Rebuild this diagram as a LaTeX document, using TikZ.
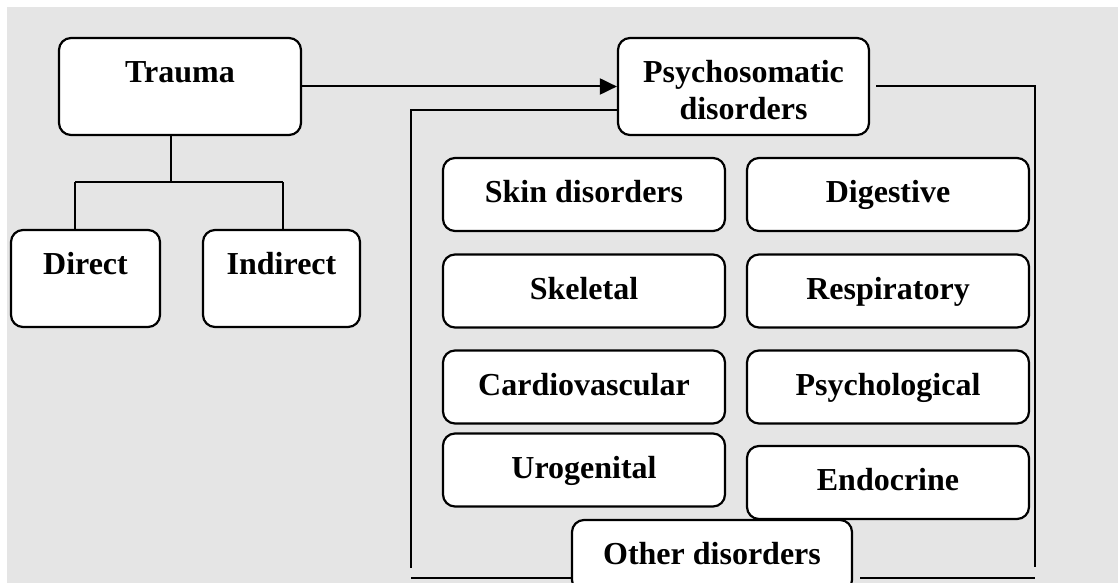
\documentclass[tikz,border=0pt]{standalone}
\usepackage{fontspec}
\setmainfont{Liberation Serif}
\definecolor{panelgray}{RGB}{229,229,229}
\usepackage{tikz}
\usetikzlibrary{arrows.meta,positioning}

\begin{document}
\begin{tikzpicture}[x=1pt,y=-1pt,
    font=\fontsize{32}{37}\selectfont\bfseries,
    box/.style={draw,line width=2.2pt,rounded corners=12pt,fill=white,
      inner sep=0pt,text height=22pt,text depth=6pt},
    topbox/.style={box,text depth=30pt},
    cellbox/.style={box,minimum width=282pt,minimum height=73pt},
    link/.style={line width=2pt}]
    % Page and panel
    \useasboundingbox (0,0) rectangle (1118,583);
    \clip (0,0) rectangle (1118,583);
    \fill[panelgray] (7,7) rectangle (1118,583);

    % Trauma and its two kinds
    \node[topbox,minimum width=242pt,minimum height=97pt] (trauma) at (180,86.5) {Trauma};
    \node[topbox,minimum width=149pt,minimum height=97pt] (direct) at (85.5,278.5) {Direct};
    \node[topbox,minimum width=157pt,minimum height=97pt] (indirect) at (281.5,278.5) {Indirect};

    % Tree from Trauma
    \coordinate (fork) at (171,182);
    \coordinate (forkL) at (75,182);
    \coordinate (forkR) at (283,182);
    \draw[link] (fork |- trauma.south) -- (fork);
    \draw[link] (forkL) -- (forkR);
    \draw[link] (forkL) -- (forkL |- direct.north);
    \draw[link] (forkR) -- (forkR |- indirect.north);

    % Psychosomatic disorders
    \node[box,align=center,text height=74pt,text depth=7pt,
      minimum width=251pt,minimum height=97pt] (psych) at (743.5,86.5) {Psychosomatic\\disorders};
    \draw[link,-{Triangle[length=17pt,width=16pt]}] (trauma.east) -- (psych.west);

    % Kinds of disorders
    \node[cellbox] (skin) at (584,194.5) {Skin disorders};
    \node[cellbox] (digest) at (888,194.5) {Digestive};
    \node[cellbox] (skel) at (584,291) {Skeletal};
    \node[cellbox] (resp) at (888,291) {Respiratory};
    \node[cellbox] (cardio) at (584,387) {Cardiovascular};
    \node[cellbox] (psyl) at (888,387) {Psychological};
    \node[cellbox] (uro) at (584,470) {Urogenital};
    \node[cellbox] (endo) at (888,482.5) {Endocrine};
    \node[box,minimum width=280pt,minimum height=72pt] (other) at (712,556) {Other disorders};

    % Frame round the kinds
    \coordinate (leftEnd) at (411,568);
    \coordinate (botL) at (411,578);
    \coordinate (rightEnd) at (1035,567);
    \coordinate (botR) at (1035,578);
    \draw[link] ([yshift=-23.5pt]psych.west) -| (leftEnd);
    \draw[link] (botL) -- (botL -| other.west);
    \draw[link] ([xshift=6pt]psych.east) -| (rightEnd);
    \draw[link] ([xshift=7pt]other.east |- botR) -- (botR);
\end{tikzpicture}
\end{document}
